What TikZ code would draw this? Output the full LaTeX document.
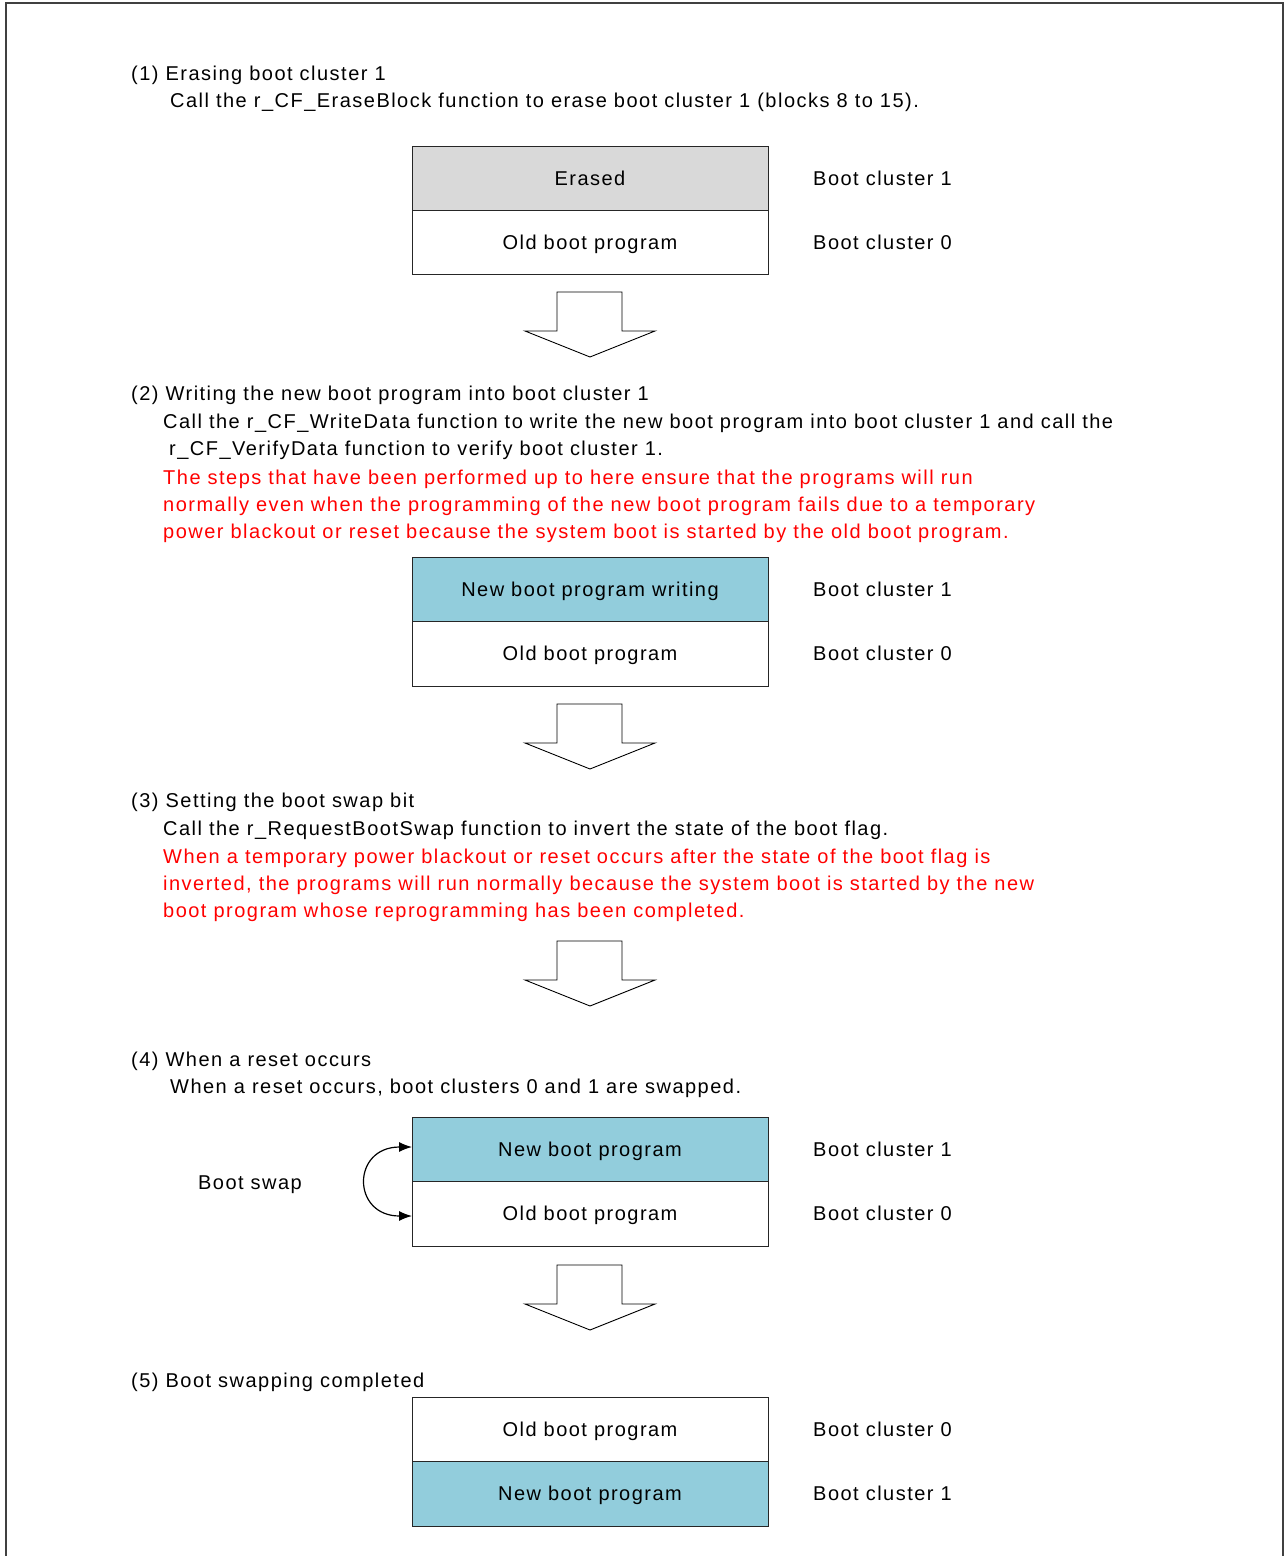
\documentclass[tikz,border=0pt]{standalone}
\usepackage{fontspec}
\setmainfont[LetterSpace=7.4]{Liberation Sans}
\usetikzlibrary{arrows.meta}
\definecolor{erasedgray}{HTML}{D9D9D9}
\definecolor{newblue}{HTML}{92CDDC}
\definecolor{notered}{HTML}{FF0000}
\newcommand{\myblockarrow}[1]{%
  \draw[blockarrow] (#1) ++(-33,0) -- ++(65,0) -- ++(0,39) -- ++(33,0) -- ++(-65,26) -- ++(-65,-26) -- ++(32,0) -- cycle;}
\begin{document}
\begin{tikzpicture}[x=1pt,y=-1pt,
  every node/.style={font=\fontsize{20}{24}\selectfont, inner sep=0pt},
  txt/.style={anchor=base west},
  note/.style={txt, text=notered},
  cell/.style={draw=black!85, line width=0.9pt, minimum width=356pt, minimum height=64pt, text height=14pt, text depth=0pt},
  lbl/.style={anchor=west, text height=14pt, text depth=0pt},
  blockarrow/.style={draw=black, line width=0.9pt, fill=white, line join=miter},
  swaparrow/.style={draw=black, line width=1.2pt, {Latex[length=13pt,width=10pt]}-{Latex[length=13pt,width=10pt]}}
]
\useasboundingbox (0,0) rectangle (1285,1556);
\draw[line width=1.5pt, draw=black!75] (6,1556) -- (6,3) -- (1283,3) -- (1283,1556);

% (1)
\node[txt] (h1) at (131,80) {(1) Erasing boot cluster 1};
\node[txt] (t1) at (170,107) {Call the r\_CF\_EraseBlock function to erase boot cluster 1 (blocks 8 to 15).};
\node[cell, fill=erasedgray] (b1t) at (590,178) {Erased};
\node[cell] (b1b) at (590,242) {Old boot program};
\node[lbl] (l1t) at (813,178) {Boot cluster 1};
\node[lbl] (l1b) at (813,242) {Boot cluster 0};
\coordinate (a1) at (590,292);
\myblockarrow{a1}

% (2)
\node[txt] (h2) at (131,400) {(2) Writing the new boot program into boot cluster 1};
\node[txt] (t2a) at (163,428) {Call the r\_CF\_WriteData function to write the new boot program into boot cluster 1 and call the};
\node[txt] (t2b) at (169,455) {r\_CF\_VerifyData function to verify boot cluster 1.};
\node[note] (n2a) at (163,484) {The steps that have been performed up to here ensure that the programs will run};
\node[note] (n2b) at (163,511) {normally even when the programming of the new boot program fails due to a temporary};
\node[note] (n2c) at (163,538) {power blackout or reset because the system boot is started by the old boot program.};
\node[cell, fill=newblue] (b2t) at (590,589) {New boot program writing};
\node[cell, minimum height=65pt] (b2b) at (590,653.5) {Old boot program};
\node[lbl] (l2t) at (813,589) {Boot cluster 1};
\node[lbl] (l2b) at (813,653) {Boot cluster 0};
\coordinate (a2) at (590,704);
\myblockarrow{a2}

% (3)
\node[txt] (h3) at (131,807) {(3) Setting the boot swap bit};
\node[txt] (t3) at (163,835) {Call the r\_RequestBootSwap function to invert the state of the boot flag.};
\node[note] (n3a) at (163,863) {When a temporary power blackout or reset occurs after the state of the boot flag is};
\node[note] (n3b) at (163,890) {inverted, the programs will run normally because the system boot is started by the new};
\node[note] (n3c) at (163,917) {boot program whose reprogramming has been completed.};
\coordinate (a3) at (590,941);
\myblockarrow{a3}

% (4)
\node[txt] (h4) at (131,1066) {(4) When a reset occurs};
\node[txt] (t4) at (170,1093) {When a reset occurs, boot clusters 0 and 1 are swapped.};
\node[cell, fill=newblue] (b4t) at (590,1149) {New boot program};
\node[cell, minimum height=65pt] (b4b) at (590,1213.5) {Old boot program};
\node[lbl] (l4t) at (813,1149) {Boot cluster 1};
\node[lbl] (l4b) at (813,1213) {Boot cluster 0};
\node[lbl, anchor=center] (bs) at (250,1182) {Boot swap};
\coordinate (sw1) at (412,1147);
\coordinate (sw2) at (412,1216);
\draw[swaparrow] (sw1) to[out=180, in=180, looseness=2.25] (sw2);
\coordinate (a4) at (590,1265);
\myblockarrow{a4}

% (5)
\node[txt] (h5) at (131,1387) {(5) Boot swapping completed};
\node[cell] (b5t) at (590,1429) {Old boot program};
\node[cell, minimum height=65pt, fill=newblue] (b5b) at (590,1493.5) {New boot program};
\node[lbl] (l5t) at (813,1429) {Boot cluster 0};
\node[lbl] (l5b) at (813,1493) {Boot cluster 1};
\end{tikzpicture}
\end{document}
